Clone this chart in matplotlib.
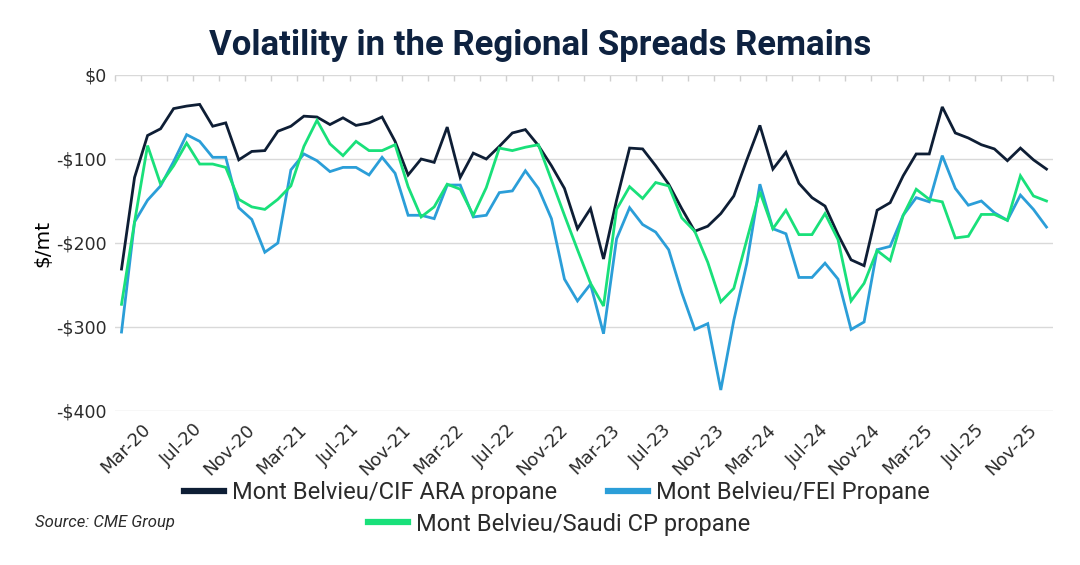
import matplotlib
matplotlib.use("Agg")
import matplotlib.pyplot as plt
import matplotlib.transforms as mtransforms
from matplotlib.lines import Line2D
import pandas as pd
import numpy as np

# ---- data ----
months = pd.date_range("2020-03-01", periods=72, freq="MS")
month_labels = [d.strftime("%b-%y") for d in months]

cif_ara = [-231, -122, -72, -64, -40, -37, -35, -61, -57, -101, -91, -90,
           -67, -61, -49, -50, -59, -51, -60, -57, -50, -79, -119, -100,
           -104, -62, -122, -93, -100, -85, -69, -65, -84, -108, -135, -183,
           -159, -219, -149, -87, -88, -108, -130, -159, -186, -180, -165, -144,
           -101, -60, -112, -92, -129, -146, -156, -190, -220, -227, -161, -152,
           -120, -94, -94, -38, -69, -75, -83, -88, -102, -87, -101, -112]

fei = [-306, -175, -149, -132, -103, -71, -79, -98, -98, -158, -172, -211,
       -200, -113, -94, -102, -115, -110, -110, -119, -98, -117, -167, -167,
       -171, -131, -131, -169, -167, -140, -138, -114, -135, -171, -243, -269,
       -249, -308, -195, -158, -178, -187, -208, -259, -303, -296, -375, -292,
       -224, -130, -183, -189, -241, -241, -224, -243, -303, -294, -208, -204,
       -167, -146, -151, -96, -135, -155, -150, -164, -173, -143, -160, -181]

saudi_cp = [-273, -175, -84, -130, -108, -81, -106, -106, -110, -148, -157, -160,
            -148, -132, -85, -54, -82, -96, -79, -90, -90, -83, -133, -169,
            -157, -130, -136, -167, -134, -87, -90, -86, -83, -125, -167, -208,
            -248, -275, -160, -133, -147, -128, -132, -170, -186, -223, -270, -254,
            -196, -139, -183, -161, -190, -190, -165, -196, -269, -248, -209, -221,
            -167, -136, -148, -151, -194, -192, -166, -166, -173, -120, -144, -150]

series_names = ["Mont Belvieu/CIF ARA propane", "Mont Belvieu/FEI Propane",
                "Mont Belvieu/Saudi CP propane"]
yticks = [0, -100, -200, -300, -400]
ytick_labels = ["$0", "-$100", "-$200", "-$300", "-$400"]

# ---- style ----
NAVY = "#0E1E35"
BLUE = "#2B9ED8"
GREEN = "#19E07A"
TEXT = "#2b2b2b"

fig = plt.figure(figsize=(10.8, 5.65), dpi=100)
ax = fig.add_axes([115/1080, 1 - 411/565, (1053-115)/1080, (411-75)/565])

x = np.arange(len(months))
ax.plot(x, cif_ara, color=NAVY, lw=2.0, solid_joinstyle="miter", zorder=4)
ax.plot(x, fei, color=BLUE, lw=2.0, solid_joinstyle="miter", zorder=3)
ax.plot(x, saudi_cp, color=GREEN, lw=2.0, solid_joinstyle="miter", zorder=5)

ax.set_xlim(-0.5, len(months) - 0.5)
ax.set_ylim(-400, 0)
ax.set_yticks(yticks)
ax.set_yticklabels(ytick_labels, fontsize=12.5, color=TEXT)
ax.grid(axis="y", color="#d9d9d9", lw=1.0)
ax.set_axisbelow(True)
for s in ax.spines.values():
    s.set_visible(False)
ax.tick_params(axis="y", length=0, pad=6)

lab_idx = list(range(0, len(months), 4))
ax.set_xticks(lab_idx)
ax.set_xticklabels([month_labels[i] for i in lab_idx], rotation=45, ha="right",
                   rotation_mode="anchor", fontsize=13, color=TEXT)
ax.tick_params(axis="x", which="major", length=0, pad=4)
offset = mtransforms.ScaledTranslation(20/100, -4/100, fig.dpi_scale_trans)
for lbl in ax.get_xticklabels():
    lbl.set_transform(lbl.get_transform() + offset)

ax.set_xticks(np.arange(-0.5, len(months), 2), minor=True)
ax.tick_params(axis="x", which="minor", top=True, bottom=False, direction="in",
               length=4, color="#cfcfcf", width=1)

ax.set_ylabel("$/mt", fontsize=14.5, color="black", labelpad=3)

fig.text(0.5, 1 - 46/565, "Volatility in the Regional Spreads Remains",
         ha="center", va="center", fontsize=25, fontweight="bold",
         color="#0E2240", family="Roboto")

legfont = {"family": ["Roboto", "DejaVu Sans"], "size": 17}
h1 = [Line2D([], [], color=NAVY, lw=4.5), Line2D([], [], color=BLUE, lw=4.5)]
leg1 = fig.legend(h1, series_names[:2], loc="center", ncol=2,
                  bbox_to_anchor=(557/1080, 1 - 493/565), frameon=False,
                  prop=legfont, handlelength=1.7, columnspacing=2.15, handletextpad=0.35)
for t in leg1.get_texts():
    t.set_color(TEXT)
h2 = [Line2D([], [], color=GREEN, lw=4.5)]
leg2 = fig.legend(h2, series_names[2:], loc="center",
                  bbox_to_anchor=(559/1080, 1 - 524/565), frameon=False,
                  prop=legfont, handlelength=1.7, handletextpad=0.35)
for t in leg2.get_texts():
    t.set_color(TEXT)

fig.text(35/1080, 1 - 523/565, "Source: CME Group", ha="left", va="center",
         fontsize=12, style="italic", color=TEXT, family="Roboto")

fig.savefig("out.png", dpi=100, facecolor="white")
